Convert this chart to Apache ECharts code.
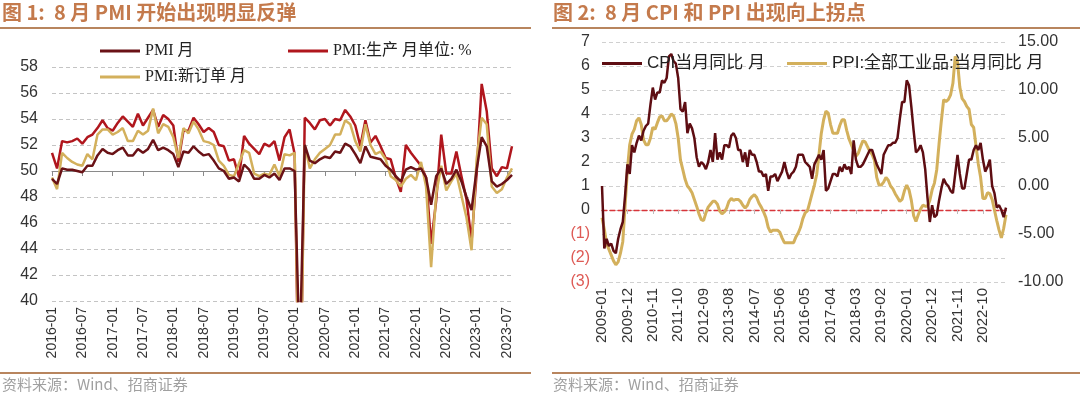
<!DOCTYPE html>
<html>
<head>
<meta charset="utf-8">
<script src="https://cdn.jsdelivr.net/npm/echarts@6/dist/echarts.min.js"></script>
<style>
  html, body { margin: 0; padding: 0; background: #fff; }
  #main { width: 1080px; height: 397px; }
</style>
</head>
<body>
<div id="main"></div>
<script>
// month labels like 2016-01 ... 2023-08
function monthList (y0, m0, y1, m1) {
  var out = []
  for (var y = y0, m = m0; y < y1 || (y === y1 && m <= m1); m++) {
    if (m > 12) { m = 1; y++ }
    if (y > y1 || (y === y1 && m > m1)) break
    out.push(y + '-' + (m < 10 ? '0' + m : m))
  }
  return out
}

// 图1 PMI, 2016-01 .. 2023-08
var pmiMonths = monthList(2016, 1, 2023, 8)
var pmi = [
  49.4, 49.0, 50.2, 50.1, 50.1, 50.0, 49.9, 50.4, 50.4, 51.2, 51.7, 51.4,
  51.3, 51.6, 51.8, 51.2, 51.2, 51.7, 51.4, 51.7, 52.4, 51.6, 51.8, 51.6,
  51.3, 50.3, 51.5, 51.4, 51.9, 51.5, 51.2, 51.3, 50.8, 50.2, 50.0, 49.4,
  49.5, 49.2, 50.5, 50.1, 49.4, 49.4, 49.7, 49.5, 49.8, 49.3, 50.2, 50.2,
  50.0, 35.7, 52.0, 50.8, 50.6, 50.9, 51.1, 51.0, 51.5, 51.4, 52.1, 51.9,
  51.3, 50.6, 51.9, 51.1, 51.0, 50.9, 50.4, 50.1, 49.6, 49.2, 50.1, 50.3,
  50.1, 50.2, 49.5, 47.4, 49.6, 50.2, 49.0, 49.4, 50.1, 49.2, 48.0, 47.0,
  50.1, 52.6, 51.9, 49.2, 48.8, 49.0, 49.3, 49.7
]
var pmiProduction = [
  51.4, 50.2, 52.3, 52.2, 52.3, 52.5, 52.1, 52.6, 52.8, 53.3, 53.9, 53.3,
  53.1, 53.7, 54.2, 53.8, 53.4, 54.4, 53.5, 54.1, 54.7, 53.4, 54.3, 54.0,
  53.5, 50.7, 53.1, 53.1, 54.1, 53.6, 53.0, 53.3, 53.0, 52.0, 51.9, 50.8,
  50.9, 49.5, 52.7, 52.1, 51.7, 51.3, 52.1, 51.9, 52.3, 50.8, 52.6, 53.2,
  51.3, 27.8, 54.1, 53.7, 53.2, 53.9, 54.0, 53.5, 54.0, 53.9, 54.7, 54.2,
  53.5, 51.9, 53.9, 52.2, 52.7, 51.9, 51.0, 50.9, 49.5, 48.4, 52.0, 51.4,
  50.9, 50.4, 49.5, 44.4, 47.7, 52.8, 49.8, 49.8, 51.5, 49.6, 47.8, 44.6,
  49.8, 56.7, 54.6, 50.2, 49.6, 50.3, 50.2, 51.9
]
var pmiNewOrders = [
  49.5, 48.6, 51.4, 51.0, 50.7, 50.5, 50.4, 51.3, 50.9, 52.8, 53.2, 53.2,
  52.8, 53.0, 53.3, 52.3, 52.3, 53.1, 52.8, 53.1, 54.8, 52.9, 53.6, 53.4,
  52.6, 51.0, 53.3, 52.9, 53.8, 53.2, 52.3, 52.2, 52.0, 50.8, 50.4, 49.7,
  49.6, 50.6, 51.6, 51.4, 49.8, 49.6, 49.8, 49.7, 50.5, 49.6, 51.3, 51.2,
  51.4, 29.3, 52.0, 50.2, 50.9, 51.4, 51.7, 52.0, 52.8, 52.8, 53.9, 53.6,
  52.3, 51.5, 53.6, 52.0, 51.3, 51.5, 50.9, 49.6, 49.3, 48.8, 49.4, 49.7,
  49.3, 50.7, 48.8, 42.6, 48.2, 50.4, 48.5, 49.2, 49.8, 48.1, 46.4, 43.9,
  50.9, 54.1, 53.6, 48.8, 48.3, 48.6, 49.5, 50.2
]

// 图2 CPI / PPI, 2009-01 .. 2023-08
var cpiMonths = monthList(2009, 1, 2023, 8)
var cpi = [
  1.0, -1.6, -1.2, -1.5, -1.4, -1.7, -1.8, -1.2, -0.8, -0.5, 0.6, 1.9,
  1.5, 2.7, 2.4, 2.8, 3.1, 2.9, 3.3, 3.5, 3.6, 4.4, 5.1, 4.6,
  4.9, 4.9, 5.4, 5.3, 5.5, 6.4, 6.5, 6.2, 6.1, 5.5, 4.2, 4.1,
  4.5, 3.2, 3.6, 3.4, 3.0, 2.2, 1.8, 2.0, 1.9, 1.7, 2.0, 2.5,
  2.0, 3.2, 2.1, 2.4, 2.1, 2.7, 2.7, 2.6, 3.1, 3.2, 3.0, 2.5,
  2.5, 2.0, 2.4, 1.8, 2.5, 2.3, 2.3, 2.0, 1.6, 1.6, 1.4, 1.5,
  0.8, 1.4, 1.4, 1.5, 1.2, 1.4, 1.6, 2.0, 1.6, 1.3, 1.5, 1.6,
  1.8, 2.3, 2.3, 2.3, 2.0, 1.9, 1.8, 1.3, 1.9, 2.1, 2.3, 2.1,
  2.5, 0.8, 0.9, 1.2, 1.5, 1.5, 1.4, 1.8, 1.6, 1.9, 1.7, 1.8,
  1.5, 2.9, 2.1, 1.8, 1.8, 1.9, 2.1, 2.3, 2.5, 2.5, 2.2, 1.9,
  1.7, 1.5, 2.3, 2.5, 2.7, 2.7, 2.8, 2.8, 3.0, 3.8, 4.5, 4.5,
  5.4, 5.2, 4.3, 3.3, 2.4, 2.5, 2.7, 2.4, 1.7, 0.5, -0.5, 0.2,
  -0.3, -0.2, 0.4, 0.9, 1.3, 1.1, 1.0, 0.8, 0.7, 1.5, 2.3, 1.5,
  0.9, 0.9, 1.5, 2.1, 2.1, 2.5, 2.7, 2.5, 2.8, 2.1, 1.6, 1.8,
  2.1, 1.0, 0.7, 0.1, 0.2, 0.0, -0.3, 0.1
]
var ppi = [
  -3.3, -4.5, -6.0, -6.6, -7.2, -7.8, -8.2, -7.9, -7.0, -5.8, -2.1, 1.7,
  4.3, 5.4, 5.9, 6.8, 7.1, 6.4, 4.8, 4.3, 4.3, 5.0, 6.1, 5.9,
  6.6, 7.2, 7.3, 6.8, 6.8, 7.1, 7.5, 7.3, 6.5, 5.0, 2.7, 1.7,
  0.7, 0.0, -0.3, -0.7, -1.4, -2.1, -2.9, -3.5, -3.6, -2.8, -2.2, -1.9,
  -1.6, -1.6, -1.9, -2.6, -2.9, -2.7, -2.3, -1.6, -1.3, -1.5, -1.4, -1.4,
  -1.6, -2.0, -2.3, -2.0, -1.4, -1.1, -0.9, -1.2, -1.8, -2.2, -2.7, -3.3,
  -4.3, -4.8, -4.6, -4.6, -4.6, -4.8, -5.4, -5.9, -5.9, -5.9, -5.9, -5.9,
  -5.3, -4.9, -4.3, -3.4, -2.8, -2.6, -1.7, -0.8, 0.1, 1.2, 3.3, 5.5,
  6.9, 7.8, 7.6, 6.4, 5.5, 5.5, 5.5, 6.3, 6.9, 6.9, 5.8, 4.9,
  4.3, 3.7, 3.1, 3.4, 4.1, 4.7, 4.6, 4.1, 3.6, 3.3, 2.7, 0.9,
  0.1, 0.1, 0.4, 0.9, 0.6, 0.0, -0.3, -0.8, -1.2, -1.6, -1.4, -0.5,
  0.1, -0.4, -1.5, -3.1, -3.7, -3.0, -2.4, -2.0, -2.1, -2.1, -1.5, -0.4,
  0.3, 1.7, 4.4, 6.8, 9.0, 8.8, 9.0, 9.5, 10.7, 13.5, 12.9, 10.3,
  9.1, 8.8, 8.3, 8.0, 6.4, 6.1, 4.2, 2.3, 0.9, -1.3, -1.3, -0.7,
  -0.8, -1.4, -2.5, -3.6, -4.6, -5.4, -4.4, -3.0
]

var SANS = "'Liberation Sans', Arial, 'Noto Sans CJK SC', sans-serif"
var SERIF = "'Liberation Serif', 'Noto Sans CJK SC', serif"
var CJK = "'Noto Sans CJK SC', sans-serif"
var titleColor = '#c47a4c'
var ruleColor = '#b8855e'
var darkRed = '#6a1216'
var red = '#b0161d'
var gold = '#d3b05c'

// legend item: a plain thick line, no symbol
function legendAt (name, left, top, font, size) {
  return {
    left: left, top: top, icon: 'rect', itemWidth: 40, itemHeight: 3,
    data: [name], textStyle: { fontFamily: font, fontSize: size, color: '#222' }
  }
}

var chart = echarts.init(document.getElementById('main'))
var option = {
  animation: false,
  graphic: [
    { type: 'text', left: 2, top: 2, style: { text: '图 1:  8 月 PMI 开始出现明显反弹', fill: titleColor, font: 'bold 20px ' + CJK } },
    { type: 'text', left: 553, top: 2, style: { text: '图 2:  8 月 CPI 和 PPI 出现向上拐点', fill: titleColor, font: 'bold 20px ' + CJK } },
    { type: 'rect', shape: { x: 0, y: 27, width: 531, height: 2 }, style: { fill: ruleColor } },
    { type: 'rect', shape: { x: 552, y: 27, width: 528, height: 2 }, style: { fill: ruleColor } },
    { type: 'rect', shape: { x: 0, y: 372, width: 531, height: 2 }, style: { fill: ruleColor } },
    { type: 'rect', shape: { x: 552, y: 372, width: 528, height: 2 }, style: { fill: ruleColor } },
    { type: 'text', left: 2, top: 377, style: { text: '资料来源：Wind、招商证券', fill: '#a0a0a0', font: '15px ' + CJK } },
    { type: 'text', left: 553, top: 377, style: { text: '资料来源：Wind、招商证券', fill: '#a0a0a0', font: '15px ' + CJK } }
  ],
  legend: [
    legendAt('PMI 月', 95, 38, SERIF, 16),
    legendAt('PMI:生产 月单位: %', 283, 38, SERIF, 16),
    legendAt('PMI:新订单 月', 95, 64, SERIF, 16),
    legendAt('CPI当月同比 月', 597, 50, SANS, 17),
    legendAt('PPI:全部工业品:当月同比 月', 782, 50, SANS, 17)
  ],
  grid: [
    { left: 52, top: 67, width: 460, height: 234 },
    { left: 602, top: 42, width: 404, height: 240 }
  ],
  xAxis: [
    {
      gridIndex: 0, type: 'category', data: pmiMonths, boundaryGap: false,
      axisLine: { show: false, onZero: false }, axisTick: { show: false },
      axisLabel: { interval: 5, rotate: 90, margin: 6, fontSize: 14, fontFamily: SANS, color: '#333' }
    },
    {
      gridIndex: 0, type: 'category', data: pmiMonths, boundaryGap: false, position: 'bottom', offset: -130,
      axisLine: { onZero: false, lineStyle: { color: '#8a8a8a', width: 1 } },
      axisTick: { interval: 5, length: 5, lineStyle: { color: '#8a8a8a' } },
      axisLabel: { show: false }
    },
    {
      gridIndex: 1, type: 'category', data: cpiMonths, boundaryGap: false,
      axisLine: { show: false, onZero: false }, axisTick: { show: false },
      axisLabel: { interval: 10, rotate: 90, margin: 6, fontSize: 15, fontFamily: SANS, color: '#333' }
    },
    {
      gridIndex: 1, type: 'category', data: cpiMonths, boundaryGap: false, position: 'bottom',
      axisLine: { onZero: true, onZeroAxisIndex: 1, lineStyle: { color: '#d8353a', type: [5, 3], width: 1.3 } },
      axisTick: { interval: 10, length: 4, lineStyle: { color: '#bbb' } },
      axisLabel: { show: false }
    }
  ],
  yAxis: [
    {
      gridIndex: 0, type: 'value', min: 40, max: 58, interval: 2,
      axisLine: { show: false }, axisTick: { show: false },
      axisLabel: { fontSize: 16, fontFamily: SANS, color: '#333', margin: 14 },
      splitLine: { lineStyle: { color: '#c4c4c4', type: [4, 3] } }
    },
    {
      gridIndex: 1, type: 'value', min: -3, max: 7, interval: 1,
      axisLine: { show: false }, axisTick: { show: false },
      axisLabel: {
        fontSize: 16, fontFamily: SANS, margin: 12,
        formatter: function (v) { return v < 0 ? '(' + (-v) + ')' : String(v) },
        color: function (v) { return Number(v) < 0 ? '#de5a55' : '#333' }
      },
      splitLine: { lineStyle: { color: '#d0d0d0', type: [4, 3] } }
    },
    {
      gridIndex: 1, type: 'value', position: 'right', min: -10, max: 15, interval: 5,
      axisLine: { show: false }, axisTick: { show: false },
      axisLabel: { fontSize: 16, fontFamily: SANS, color: '#333', margin: 12, formatter: function (v) { return v.toFixed(2) } },
      splitLine: { show: false }
    }
  ],
  series: [
    { name: 'PMI 月', type: 'line', xAxisIndex: 0, yAxisIndex: 0, data: pmi, symbol: 'none', z: 4, lineStyle: { color: darkRed, width: 2.5 }, itemStyle: { color: darkRed } },
    { name: 'PMI:生产 月单位: %', type: 'line', xAxisIndex: 0, yAxisIndex: 0, data: pmiProduction, symbol: 'none', z: 2, lineStyle: { color: red, width: 2.5 }, itemStyle: { color: red } },
    { name: 'PMI:新订单 月', type: 'line', xAxisIndex: 0, yAxisIndex: 0, data: pmiNewOrders, symbol: 'none', z: 3, lineStyle: { color: gold, width: 2.5 }, itemStyle: { color: gold } },
    { name: 'CPI当月同比 月', type: 'line', xAxisIndex: 2, yAxisIndex: 1, data: cpi, symbol: 'none', z: 3, lineStyle: { color: '#5e0d12', width: 2.5 }, itemStyle: { color: '#5e0d12' } },
    { name: 'PPI:全部工业品:当月同比 月', type: 'line', xAxisIndex: 2, yAxisIndex: 2, data: ppi, symbol: 'none', z: 2, lineStyle: { color: gold, width: 3 }, itemStyle: { color: gold } }
  ]
}
chart.setOption(option)
</script>
</body>
</html>
